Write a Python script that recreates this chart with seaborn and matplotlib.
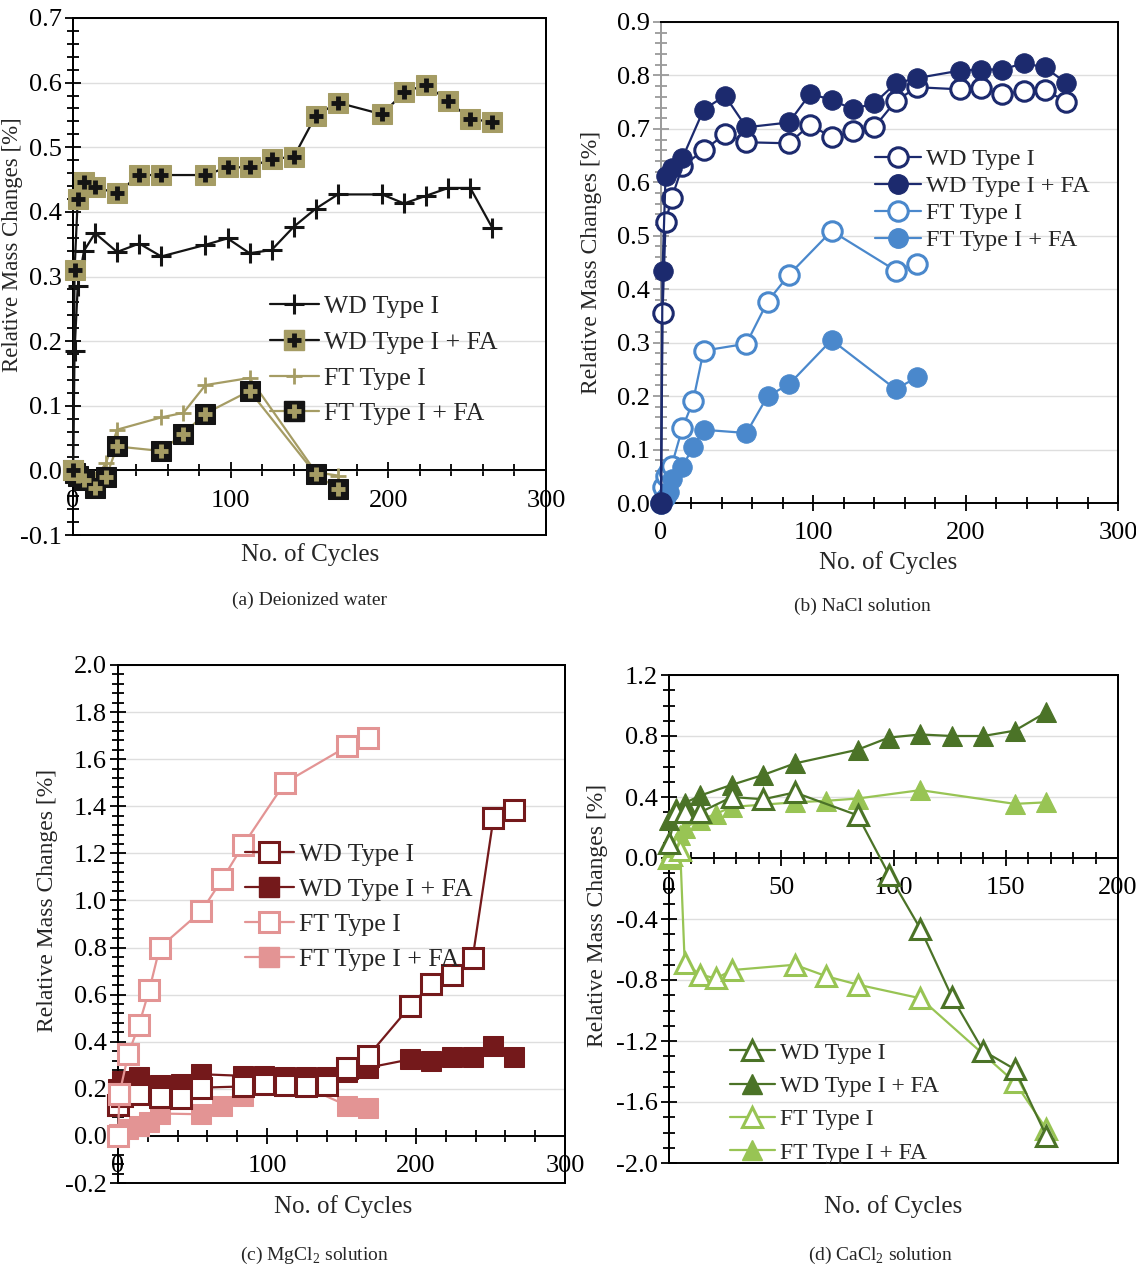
import numpy as np
import pandas as pd
import seaborn as sns
import matplotlib.pyplot as plt
from matplotlib.lines import Line2D
from matplotlib.patches import Rectangle
from matplotlib.ticker import MultipleLocator, FormatStrFormatter

sns.set_style("white")
plt.rcParams['font.family'] = ['Liberation Serif', 'DejaVu Serif']
plt.rcParams['mathtext.fontset'] = 'custom'
plt.rcParams['mathtext.rm'] = 'Liberation Serif'
plt.rcParams['axes.unicode_minus'] = False

labels = ["WD Type I", "WD Type I + FA", "FT Type I", "FT Type I + FA"]

# (a) deionized water
a_wd_cycles = [0, 1, 3, 7, 14, 28, 42, 56, 84, 98, 112, 126, 140, 154, 168, 196, 210, 224, 238, 252, 266]
a_wd = [0.0, 0.185, 0.285, 0.34, 0.367, 0.338, 0.351, 0.331, 0.349, 0.359, 0.336, 0.341, 0.377, 0.405,
        0.427, 0.427, 0.413, 0.425, 0.437, 0.437, 0.375]
a_wd_fa = [0.0, 0.31, 0.42, 0.447, 0.438, 0.429, 0.457, 0.457, 0.457, 0.469, 0.469, 0.482, 0.485, 0.549,
           0.569, 0.551, 0.585, 0.597, 0.571, 0.544, 0.539]
a_ft_cycles = [0, 1, 3, 7, 14, 21, 28, 56, 70, 84, 112, 154, 168]
a_ft = [0.0, -0.003, -0.006, -0.01, -0.014, 0.012, 0.063, 0.082, 0.089, 0.132, 0.143, -0.003, -0.008]
a_ft_fa = [0.0, -0.004, -0.008, -0.015, -0.027, -0.01, 0.037, 0.030, 0.057, 0.088, 0.123, -0.006, -0.029]

# (b) NaCl
b_wd_cycles = [0, 1, 3, 7, 14, 28, 42, 56, 84, 98, 112, 126, 140, 154, 168, 196, 210, 224, 238, 252, 266]
b_wd = [0.0, 0.355, 0.526, 0.570, 0.630, 0.660, 0.690, 0.675, 0.673, 0.708, 0.684, 0.696, 0.703, 0.752,
        0.778, 0.774, 0.776, 0.766, 0.770, 0.773, 0.751]
b_wd_fa = [0.0, 0.435, 0.612, 0.626, 0.645, 0.736, 0.762, 0.703, 0.712, 0.766, 0.754, 0.737, 0.748, 0.785,
           0.795, 0.809, 0.811, 0.811, 0.823, 0.815, 0.786]
b_ft_cycles = [0, 1, 3, 5, 7, 14, 21, 28, 56, 70, 84, 112, 154, 168]
b_ft = [0.0, 0.03, 0.05, 0.06, 0.07, 0.14, 0.19, 0.285, 0.298, 0.377, 0.427, 0.509, 0.435, 0.448]
b_ft_fa = [0.0, 0.005, 0.012, 0.02, 0.045, 0.068, 0.104, 0.137, 0.131, 0.2, 0.222, 0.305, 0.213, 0.235]

# (c) MgCl2
c_wd_cycles = [0, 3, 14, 28, 42, 56, 84, 98, 112, 126, 140, 154, 168, 196, 210, 224, 238, 252, 266]
c_wd = [0.13, 0.17, 0.18, 0.165, 0.16, 0.205, 0.21, 0.22, 0.215, 0.21, 0.215, 0.29, 0.34, 0.55, 0.645,
        0.685, 0.755, 1.35, 1.385]
c_wd_fa = [0.2, 0.235, 0.25, 0.215, 0.22, 0.262, 0.255, 0.255, 0.25, 0.25, 0.25, 0.27, 0.29, 0.325, 0.32,
           0.335, 0.335, 0.382, 0.335]
c_ft_cycles = [0, 1, 7, 14, 21, 28, 56, 70, 84, 112, 154, 168]
c_ft = [0.0, 0.18, 0.35, 0.47, 0.62, 0.80, 0.955, 1.09, 1.235, 1.5, 1.655, 1.69]
c_ft_fa = [0.0, 0.01, 0.03, 0.04, 0.06, 0.095, 0.092, 0.128, 0.17, 0.248, 0.128, 0.12]

# (d) CaCl2
d_wd_cycles = [0, 3, 7, 14, 28, 42, 56, 84, 98, 112, 126, 140, 154, 168]
d_wd = [0.1, 0.3, 0.3, 0.3, 0.4, 0.385, 0.43, 0.28, -0.11, -0.465, -0.91, -1.265, -1.385, -1.82]
d_wd_fa = [0.25, 0.33, 0.36, 0.41, 0.48, 0.545, 0.62, 0.71, 0.79, 0.81, 0.8, 0.8, 0.835, 0.955]
d_ft_cycles = [0, 1, 3, 5, 7, 14, 21, 28, 56, 70, 84, 112, 154, 168]
d_ft = [0.0, 0.02, 0.08, 0.05, -0.69, -0.765, -0.79, -0.735, -0.70, -0.775, -0.83, -0.92, -1.47, -1.775]
d_ft_fa = [0.0, 0.05, 0.1, 0.15, 0.2, 0.25, 0.29, 0.335, 0.365, 0.375, 0.39, 0.445, 0.355, 0.365]

W, H = 1136, 1268
fig = plt.figure(figsize=(W / 100, H / 100), dpi=100)

TICK_FS = 19
LEG_FS = 18.5


def box(l, t, r, b):
    return [l / W, 1 - b / H, (r - l) / W, (b - t) / H]


def style(ax, xmax, xmaj, xmin_, ylo, yhi, ymaj, ymin_, ycolor='black'):
    ax.set_xlim(0, xmax)
    ax.set_ylim(ylo, yhi)
    ax.xaxis.set_major_locator(MultipleLocator(xmaj))
    ax.xaxis.set_minor_locator(MultipleLocator(xmin_))
    ax.yaxis.set_major_locator(MultipleLocator(ymaj))
    ax.yaxis.set_minor_locator(MultipleLocator(ymin_))
    ax.yaxis.set_major_formatter(FormatStrFormatter('%.1f'))
    ax.set_axisbelow(True)
    ax.yaxis.grid(True, which='major', color='#dedede', lw=1.0)
    ax.xaxis.grid(False)
    for s in ax.spines.values():
        s.set_color('black')
        s.set_linewidth(1.4)
    if ylo < 0:
        ax.spines['bottom'].set_position(('data', 0))
        ax.add_patch(Rectangle((0, 0), 1, 1, transform=ax.transAxes, fill=False,
                               lw=1.4, ec='black', clip_on=False, zorder=1))
    ax.spines['left'].set_color(ycolor)
    ax.tick_params(which='both', direction='inout', width=1.3, labelsize=TICK_FS,
                   bottom=True, left=True, top=False, right=False, colors='black')
    ax.tick_params(axis='y', which='both', color=ycolor, pad=2)
    ax.tick_params(axis='x', which='major', pad=8)
    ax.tick_params(which='major', length=12)
    ax.tick_params(which='minor', length=9)
    ax.set_xlabel('')
    ax.set_ylabel('')


def draw(ax, x, y, color, **kw):
    sns.lineplot(x=x, y=y, ax=ax, color=color, lw=1.6, estimator=None, sort=False,
                 legend=False, clip_on=False, zorder=3, **kw)


def put_legend(ax, handles, x, y, spacing, fs=LEG_FS):
    ax.legend(handles, labels, loc='upper left', bbox_to_anchor=(x / W, 1 - y / H),
              bbox_transform=fig.transFigure, frameon=False, fontsize=fs,
              handlelength=1.9, handletextpad=0.2, labelspacing=spacing,
              borderpad=0, borderaxespad=0)


def texts(cx, cy, xl_x, xl_y, cap, cap_x, cap_y, yfs=17):
    fig.text(cx / W, 1 - cy / H, "Relative Mass Changes [%]", rotation=90,
             ha='center', va='center', fontsize=yfs)
    fig.text(xl_x / W, 1 - xl_y / H, "No. of Cycles", ha='center', va='center', fontsize=18)
    fig.text(cap_x / W, 1 - cap_y / H, cap, ha='center', va='center', fontsize=14)


# ---------------- (a) ----------------
black, khaki = '#141414', '#a59c64'
ax = fig.add_axes(box(73, 18, 546, 535))
style(ax, 300, 100, 20, -0.1, 0.7, 0.1, 0.02)
draw(ax, a_ft_cycles, a_ft, khaki, marker='+', markersize=11, markeredgewidth=2, markeredgecolor=khaki)
draw(ax, a_ft_cycles, a_ft_fa, khaki, marker='s', markersize=15, markerfacecolor=black, markeredgecolor=black)
sns.lineplot(x=a_ft_cycles, y=a_ft_fa, ax=ax, color=khaki, ls='none', marker='+', markersize=10,
             markeredgewidth=3.5, markeredgecolor=khaki, estimator=None, sort=False, legend=False,
             clip_on=False, zorder=4)
draw(ax, a_wd_cycles, a_wd, black, marker='+', markersize=14, markeredgewidth=2.2, markeredgecolor=black)
draw(ax, a_wd_cycles, a_wd_fa, black, marker='s', markersize=15, markerfacecolor=khaki, markeredgecolor=khaki)
sns.lineplot(x=a_wd_cycles, y=a_wd_fa, ax=ax, color=black, ls='none', marker='+', markersize=10,
             markeredgewidth=3.5, markeredgecolor=black, estimator=None, sort=False, legend=False,
             clip_on=False, zorder=4)
h_a = [
    Line2D([], [], color=black, lw=1.6, marker='+', ms=14, mew=2.2),
    (Line2D([], [], color=black, lw=1.6, marker='s', ms=15, mfc=khaki, mec=khaki),
     Line2D([], [], ls='none', marker='+', ms=10, mew=3.5, mec=black)),
    Line2D([], [], color=khaki, lw=1.6, marker='+', ms=11, mew=2),
    (Line2D([], [], color=khaki, lw=1.6, marker='s', ms=15, mfc=black, mec=black),
     Line2D([], [], ls='none', marker='+', ms=10, mew=3.5, mec=khaki)),
]
put_legend(ax, h_a, 270, 295, 0.5)
texts(13, 245, 310, 555, "(a) Deionized water", 310, 600, yfs=16.5)

# ---------------- (b) ----------------
navy, blue = '#1c2a6e', '#4a88cc'
ax = fig.add_axes(box(661, 22, 1118, 503))
style(ax, 300, 100, 20, 0.0, 0.9, 0.1, 0.02, ycolor='#9a9a9a')
draw(ax, b_ft_cycles, b_ft, blue, marker='o', markersize=14, markerfacecolor='white',
     markeredgecolor=blue, markeredgewidth=2.2)
draw(ax, b_ft_cycles, b_ft_fa, blue, marker='o', markersize=14, markerfacecolor=blue, markeredgecolor=blue)
draw(ax, b_wd_cycles, b_wd, navy, marker='o', markersize=14, markerfacecolor='white',
     markeredgecolor=navy, markeredgewidth=2.2)
draw(ax, b_wd_cycles, b_wd_fa, navy, marker='o', markersize=14, markerfacecolor=navy, markeredgecolor=navy)
h_b = [
    Line2D([], [], color=navy, lw=1.6, marker='o', ms=14, mfc='white', mec=navy, mew=2.2),
    Line2D([], [], color=navy, lw=1.6, marker='o', ms=14, mfc=navy, mec=navy),
    Line2D([], [], color=blue, lw=1.6, marker='o', ms=14, mfc='white', mec=blue, mew=2.2),
    Line2D([], [], color=blue, lw=1.6, marker='o', ms=14, mfc=blue, mec=blue),
]
put_legend(ax, h_b, 875, 148, 0.21, fs=17.5)
texts(592, 262, 888, 563, "(b) NaCl solution", 862, 606)

# ---------------- (c) ----------------
dred, pink = '#74191b', '#e39494'
ax = fig.add_axes(box(118, 665, 565, 1183))
style(ax, 300, 100, 20, -0.2, 2.0, 0.2, 0.04)
draw(ax, c_ft_cycles, c_ft_fa, pink, marker='s', markersize=14, markerfacecolor=pink, markeredgecolor=pink)
draw(ax, c_wd_cycles, c_wd_fa, dred, marker='s', markersize=14, markerfacecolor=dred, markeredgecolor=dred)
draw(ax, c_wd_cycles, c_wd, dred, marker='s', markersize=14, markerfacecolor='white',
     markeredgecolor=dred, markeredgewidth=2.2)
draw(ax, c_ft_cycles, c_ft, pink, marker='s', markersize=14, markerfacecolor='white',
     markeredgecolor=pink, markeredgewidth=2.2)
h_c = [
    Line2D([], [], color=dred, lw=1.6, marker='s', ms=14, mfc='white', mec=dred, mew=2.2),
    Line2D([], [], color=dred, lw=1.6, marker='s', ms=14, mfc=dred, mec=dred),
    Line2D([], [], color=pink, lw=1.6, marker='s', ms=14, mfc='white', mec=pink, mew=2.2),
    Line2D([], [], color=pink, lw=1.6, marker='s', ms=14, mfc=pink, mec=pink),
]
put_legend(ax, h_c, 245, 843, 0.47)
texts(48, 900, 343, 1207, "(c) MgCl$_\\mathregular{2}$ solution", 315, 1255)

# ---------------- (d) ----------------
dgreen, lgreen = '#4b7327', '#98c454'
ax = fig.add_axes(box(669, 675, 1118, 1163))
style(ax, 200, 50, 10, -2.0, 1.2, 0.4, 0.1)
draw(ax, d_ft_cycles, d_ft_fa, lgreen, marker='^', markersize=14, markerfacecolor=lgreen, markeredgecolor=lgreen)
draw(ax, d_ft_cycles, d_ft, lgreen, marker='^', markersize=14, markerfacecolor='white',
     markeredgecolor=lgreen, markeredgewidth=2.2)
draw(ax, d_wd_cycles, d_wd_fa, dgreen, marker='^', markersize=14, markerfacecolor=dgreen, markeredgecolor=dgreen)
draw(ax, d_wd_cycles, d_wd, dgreen, marker='^', markersize=14, markerfacecolor='white',
     markeredgecolor=dgreen, markeredgewidth=2.2)
h_d = [
    Line2D([], [], color=dgreen, lw=1.6, marker='^', ms=14, mfc='white', mec=dgreen, mew=2.2),
    Line2D([], [], color=dgreen, lw=1.6, marker='^', ms=14, mfc=dgreen, mec=dgreen),
    Line2D([], [], color=lgreen, lw=1.6, marker='^', ms=14, mfc='white', mec=lgreen, mew=2.2),
    Line2D([], [], color=lgreen, lw=1.6, marker='^', ms=14, mfc=lgreen, mec=lgreen),
]
put_legend(ax, h_d, 730, 1042, 0.5, fs=17)
texts(597, 915, 893, 1207, "(d) CaCl$_\\mathregular{2}$ solution", 880, 1255)

fig.savefig("out.png", dpi=100, facecolor='white')
